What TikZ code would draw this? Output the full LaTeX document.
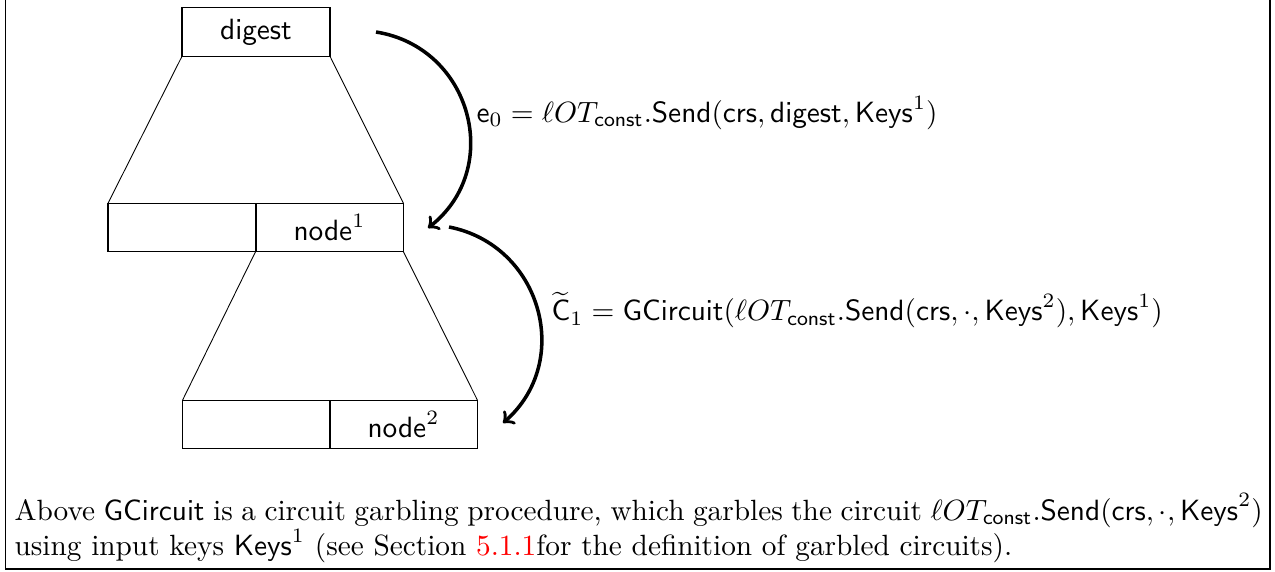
\documentclass[tikz,border=0pt]{standalone}
\usepackage{xcolor}
\begin{document}
\begin{tikzpicture}[x=0.3413pt,y=0.3413pt,
  cell/.style={draw, line width=0.4pt, minimum width=50.5pt, minimum height=16.55pt, inner sep=0pt, outer sep=0pt},
  edge/.style={line width=0.3pt},
  arr/.style={->, line width=1.2pt},
  frameline/.style={line width=0.4pt}]
\useasboundingbox (0,0) rectangle (1275,-571);
% frame
\draw[frameline] (5.5,0) -- (5.5,-569) -- (1270,-569) -- (1270,0);
% boxes
\node[cell] (digest) at (256,-32) {$\mathsf{digest}$};
\node[cell] (r1l) at (182,-227.5) {};
\node[cell] (r1r) at (329.5,-227.5) {$\mathsf{node}^1$};
\node[cell] (r2l) at (256.5,-424.5) {};
\node[cell] (r2r) at (403.5,-424.5) {$\mathsf{node}^2$};
% trapezoid sides
\draw[edge] (digest.south west) -- (r1l.north west);
\draw[edge] (digest.south east) -- (r1r.north east);
\draw[edge] (r1r.south west) -- (r2l.north west);
\draw[edge] (r1r.south east) -- (r2r.north east);
% arrows
\coordinate (a1s) at (376,-32);
\coordinate (a1e) at (428,-228);
\coordinate (a2s) at (449,-227);
\coordinate (a2e) at (503,-423);
\draw[arr] (a1s) to[out=-9, in=38, looseness=1.22] (a1e);
\draw[arr] (a2s) to[out=-11, in=41, looseness=1.18] (a2e);
% labels
\node[anchor=west, inner sep=0pt] (lab1) at (476,-113) {$\mathsf{e}_0 = \ell OT_{\mathsf{const}}.\mathsf{Send}(\mathsf{crs},\mathsf{digest},\mathsf{Keys}^1)$};
\node[anchor=west, inner sep=0pt] (lab2) at (551,-310) {$\widetilde{\mathsf{C}}_1 = \mathsf{GCircuit}(\ell OT_{\mathsf{const}}.\mathsf{Send}(\mathsf{crs},\cdot,\mathsf{Keys}^2),\mathsf{Keys}^1)$};
% caption
\node[anchor=base west, inner sep=0pt, text width=426pt, align=justify] (cap) at (14,-520) {Above $\mathsf{GCircuit}$ is a circuit garbling procedure, which garbles the circuit $\ell OT_{\mathsf{const}}.\mathsf{Send}(\mathsf{crs},\cdot,\mathsf{Keys}^2)$\linebreak using input keys $\mathsf{Keys}^1$ (see Section \textcolor{red}{5.1.1}for the definition of garbled circuits).};
\end{tikzpicture}
\end{document}
